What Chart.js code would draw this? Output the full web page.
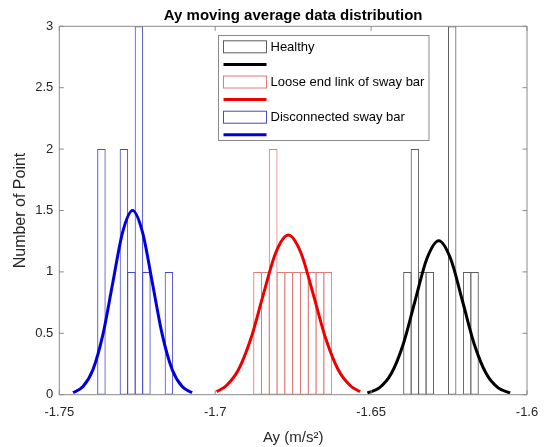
<!DOCTYPE html>
<html>
<head>
<meta charset="utf-8">
<script src="https://cdn.jsdelivr.net/npm/chart.js@4.4.0/dist/chart.umd.min.js"></script>
<style>
    html, body { margin: 0; padding: 0; background: #fff; }
</style>
</head>
<body>
<canvas id="chart" width="545" height="447"></canvas>
<script>
/* histogram bins (bin centres) and counts */
const healthyBins   = [-1.63836, -1.63596, -1.63357, -1.63117, -1.62878, -1.62639, -1.62399, -1.62160, -1.61920, -1.61681];
const healthyCounts = [1, 2, 1, 1, 0, 0, 3, 0, 1, 1];

const looseBins   = [-1.68641, -1.68391, -1.68141, -1.67891, -1.67641, -1.67391, -1.67140, -1.66890, -1.66640, -1.66390];
const looseCounts = [1, 1, 2, 1, 1, 1, 1, 1, 1, 1];

const discBins   = [-1.73649, -1.73409, -1.73168, -1.72928, -1.72687, -1.72447, -1.72206, -1.71966, -1.71725, -1.71485];
const discCounts = [2, 0, 0, 2, 1, 3, 1, 0, 0, 1];

/* fitted normal curves */
const healthyFitX = [-1.65119, -1.64738, -1.64356, -1.63975, -1.63593, -1.63212, -1.62830, -1.62449, -1.62067, -1.61686, -1.61304, -1.60923, -1.60541];
const healthyFitY = [0.014, 0.055, 0.170, 0.407, 0.761, 1.107, 1.254, 1.107, 0.761, 0.407, 0.170, 0.055, 0.014];

const looseFitX = [-1.69955, -1.69655, -1.69255, -1.68855, -1.68455, -1.68055, -1.67655, -1.67255, -1.66855, -1.66455, -1.66055, -1.65655, -1.65355];
const looseFitY = [0.025, 0.071, 0.203, 0.457, 0.817, 1.158, 1.300, 1.158, 0.817, 0.457, 0.203, 0.071, 0.025];

const discFitX = [-1.74558, -1.74240, -1.73922, -1.73604, -1.73286, -1.72968, -1.72650, -1.72332, -1.72014, -1.71696, -1.71378, -1.71060, -1.70742];
const discFitY = [0.017, 0.066, 0.203, 0.487, 0.910, 1.324, 1.500, 1.324, 0.910, 0.487, 0.203, 0.066, 0.017];

/* axes */
const xTicks = [-1.75, -1.7, -1.65, -1.6];
const xTickLabels = ["-1.75", "-1.7", "-1.65", "-1.6"];
const yTicks = [0, 0.5, 1, 1.5, 2, 2.5, 3];
const yTickLabels = ["0", "0.5", "1", "1.5", "2", "2.5", "3"];

const seriesNames = ["Healthy", "Loose end link of sway bar", "Disconnected sway bar"];

/* styles */
const barEdge  = ["#5c5c5c", "#e27a7a", "#4848c8"];
const lineCol  = ["#000000", "#ee0000", "#0000dd"];
const axisCol  = "#8a8a8a";
const textCol  = "#262626";
const FONT     = "'Liberation Sans', Arial, Helvetica, sans-serif";

/* plot box (px) */
const plotLeft = 59.3, plotRight = 527, plotTop = 26.3, plotBottom = 394.7;
const W = 545, H = 447;

/* bar widths: each bin one bin wide, neighbouring edges overlap by 1px */
const allCentres = [...healthyBins, ...looseBins, ...discBins].sort((a, b) => a - b);
let minGap = Infinity;
for (let i = 1; i < allCentres.length; i++) {
    minGap = Math.min(minGap, allCentres[i] - allCentres[i - 1]);
}
const pxPerUnit = (plotRight - plotLeft) / (xTicks[xTicks.length - 1] - xTicks[0]);
function barPct(bins) {
    const bw = (bins[bins.length - 1] - bins[0]) / (bins.length - 1);
    return (bw * pxPerUnit + 1) / (minGap * pxPerUnit);
}

function histSet(bins, counts, k) {
    return {
        type: "bar",
        label: seriesNames[k],
        data: bins.map((x, i) => ({ x: x, y: counts[i] })),
        backgroundColor: "rgba(0,0,0,0)",
        borderColor: barEdge[k],
        borderWidth: 1,
        borderSkipped: false,
        grouped: false,
        categoryPercentage: 1,
        barPercentage: barPct(bins),
        order: 2
    };
}

function fitSet(xs, ys, k) {
    return {
        type: "line",
        label: "",
        data: xs.map((x, i) => ({ x: x, y: ys[i] })),
        borderColor: lineCol[k],
        borderWidth: 3,
        pointRadius: 0,
        fill: false,
        cubicInterpolationMode: "monotone",
        order: 1
    };
}

/* box round the axes with inward ticks */
const framePlugin = {
    id: "frame",
    afterDatasetsDraw(chart) {
        const { ctx, chartArea: a, scales } = chart;
        const tl = 4.5;
        ctx.save();
        ctx.strokeStyle = axisCol;
        ctx.lineWidth = 1;
        ctx.beginPath();
        ctx.rect(a.left, a.top, a.right - a.left, a.bottom - a.top);
        for (const v of xTicks) {
            const px = scales.x.getPixelForValue(v);
            ctx.moveTo(px, a.bottom); ctx.lineTo(px, a.bottom - tl);
            ctx.moveTo(px, a.top);    ctx.lineTo(px, a.top + tl);
        }
        for (const v of yTicks) {
            const py = scales.y.getPixelForValue(v);
            ctx.moveTo(a.left, py);  ctx.lineTo(a.left + tl, py);
            ctx.moveTo(a.right, py); ctx.lineTo(a.right - tl, py);
        }
        ctx.stroke();
        ctx.restore();
    }
};

/* boxed legend, top middle of the axes */
const legendPlugin = {
    id: "boxLegend",
    afterDraw(chart) {
        const ctx = chart.ctx;
        const bx = 218.5, by = 35.5, bw = 210.5, bh = 105;
        const ix = 223.5, iw = 43, rowH = 17.6;
        ctx.save();
        ctx.fillStyle = "#fff";
        ctx.fillRect(bx, by, bw, bh);
        ctx.strokeStyle = axisCol;
        ctx.lineWidth = 1;
        ctx.strokeRect(bx, by, bw, bh);
        ctx.font = "13px " + FONT;
        ctx.textBaseline = "middle";
        ctx.textAlign = "left";
        seriesNames.forEach((name, k) => {
            const yRect = by + 11.3 + k * 2 * rowH;
            const yLine = yRect + rowH;
            ctx.strokeStyle = barEdge[k];
            ctx.lineWidth = 1;
            ctx.strokeRect(ix, yRect - 6, iw, 12);
            ctx.fillStyle = "#000";
            ctx.fillText(name, 270.5, yRect + 0.5);
            ctx.strokeStyle = lineCol[k];
            ctx.lineWidth = 3;
            ctx.beginPath();
            ctx.moveTo(ix, yLine);
            ctx.lineTo(ix + iw, yLine);
            ctx.stroke();
        });
        ctx.restore();
    }
};

const ctx = document.getElementById("chart");
new Chart(ctx, {
    type: "bar",
    data: {
        datasets: [
            histSet(healthyBins, healthyCounts, 0),
            fitSet(healthyFitX, healthyFitY, 0),
            histSet(looseBins, looseCounts, 1),
            fitSet(looseFitX, looseFitY, 1),
            histSet(discBins, discCounts, 2),
            fitSet(discFitX, discFitY, 2)
        ]
    },
    options: {
        responsive: false,
        animation: false,
        devicePixelRatio: 1,
        layout: { padding: { left: 0, right: W - plotRight, top: 0, bottom: 0 } },
        plugins: {
            legend: { display: false },
            tooltip: { enabled: false },
            title: {
                display: true,
                fullSize: false,
                text: "Ay moving average data distribution",
                color: "#000",
                font: { family: FONT, size: 15, weight: "bold", lineHeight: 1.2 },
                padding: { top: 7, bottom: plotTop - 7 - 18 }
            }
        },
        scales: {
            x: {
                type: "linear",
                min: xTicks[0],
                max: xTicks[xTicks.length - 1],
                offset: false,
                grid: { display: false, drawTicks: false },
                border: { display: false },
                afterBuildTicks: s => { s.ticks = xTicks.map(v => ({ value: v })); },
                afterFit: s => {
                    s.height = H - plotBottom;
                    s.paddingLeft = 0;
                    s.paddingRight = 0;
                },
                ticks: {
                    color: textCol,
                    padding: 9.5,
                    maxRotation: 0,
                    font: { family: FONT, size: 13 },
                    callback: (v, i) => xTickLabels[i]
                },
                title: {
                    display: true,
                    text: "Ay (m/s²)",
                    color: textCol,
                    font: { family: FONT, size: 15 },
                    padding: { top: 0, bottom: 0 }
                }
            },
            y: {
                min: yTicks[0],
                max: yTicks[yTicks.length - 1],
                grid: { display: false, drawTicks: false },
                border: { display: false },
                afterBuildTicks: s => { s.ticks = yTicks.map(v => ({ value: v })); },
                afterFit: s => { s.width = plotLeft; },
                ticks: {
                    color: textCol,
                    padding: 6,
                    font: { family: FONT, size: 13 },
                    callback: (v, i) => yTickLabels[i]
                },
                title: {
                    display: true,
                    text: "Number of Point",
                    color: textCol,
                    font: { family: FONT, size: 16 },
                    padding: { top: 11, bottom: 0 }
                }
            }
        }
    },
    plugins: [framePlugin, legendPlugin]
});
</script>
</body>
</html>
